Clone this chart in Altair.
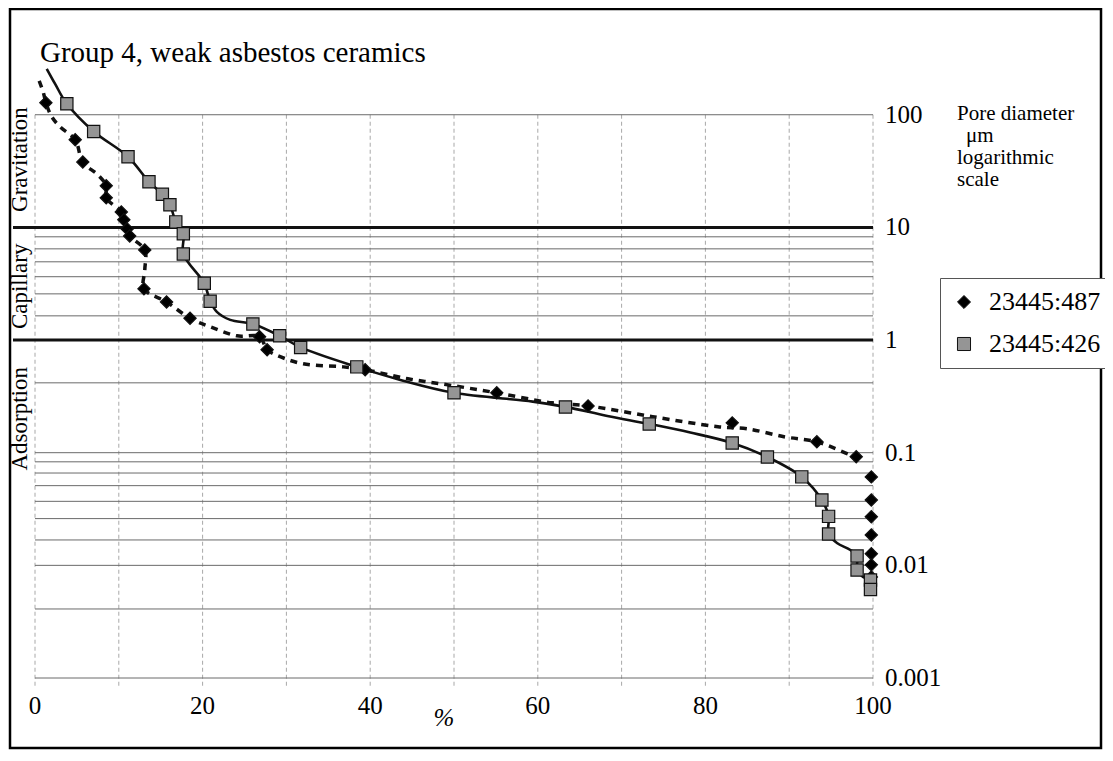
import altair as alt
import pandas as pd

# ---------------- data ----------------
title_text = "Group 4, weak asbestos ceramics"
series_names = ["23445:487", "23445:426"]

# markers, series 23445:487 (diamonds): cumulative % vs pore diameter (um)
pct_487 = [1.3, 4.8, 5.7, 8.5, 8.5, 10.3, 10.6, 11.0, 11.3, 13.1, 13.0, 15.7, 18.5,
           26.8, 27.7, 39.4, 55.1, 66.0, 83.2, 93.3, 98.0,
           99.8, 99.8, 99.8, 99.8, 99.8, 99.8, 99.8]
dia_487 = [128, 60, 38, 23.4, 18.3, 13.7, 11.7, 9.7, 8.4, 6.3, 2.85, 2.18, 1.56,
           1.07, 0.82, 0.545, 0.34, 0.26, 0.184, 0.125, 0.092,
           0.061, 0.038, 0.027, 0.0186, 0.0127, 0.0101, 0.0079]

# markers, series 23445:426 (squares)
pct_426 = [3.8, 7.0, 11.1, 13.6, 15.2, 16.1, 16.8, 17.7, 17.7, 20.2, 20.9, 26.0, 29.2,
           31.7, 38.4, 50.0, 63.3, 73.3, 83.2, 87.4, 91.5, 93.9, 94.7, 94.7, 98.1,
           98.1, 99.7, 99.7]
dia_426 = [125, 71, 42.4, 25.4, 19.7, 15.9, 11.2, 8.8, 5.8, 3.19, 2.21, 1.39, 1.09,
           0.86, 0.578, 0.34, 0.255, 0.18, 0.122, 0.0916, 0.061, 0.038, 0.0272, 0.019,
           0.0121, 0.0091, 0.0074, 0.0061]

# dotted curve (23445:487)
curve_487_pct = [0.5, 1.0, 1.3, 2.0, 3.0, 4.8, 5.7, 7.5, 8.5, 8.5, 10.3, 10.6, 11.0, 11.3,
                 13.1, 13.1, 13.0, 15.7, 18.5, 20.9, 24.1, 26.8, 27.7, 28.9, 32.0, 36.8,
                 39.4, 44.5, 49.3, 55.1, 61.7, 66.0, 73.7, 81.5, 85.0, 89.5, 93.3, 97.3, 98.0]
curve_487_dia = [200, 157, 128, 96, 78, 60, 38, 29.3, 23.4, 18.3, 13.7, 11.7, 9.7, 8.4,
                 6.3, 4.2, 2.85, 2.18, 1.56, 1.31, 1.09, 1.07, 0.82, 0.73, 0.615, 0.578,
                 0.545, 0.453, 0.40, 0.34, 0.277, 0.26, 0.209, 0.17, 0.163, 0.138, 0.125,
                 0.0957, 0.092]

# solid curve (23445:426)
curve_426_pct = [1.4, 2.4, 3.8, 7.0, 11.1, 13.6, 15.2, 16.1, 16.8, 17.7, 17.7, 20.2, 20.9,
                 21.7, 23.3, 26.0, 29.2, 31.7, 38.4, 43.6, 50.0, 59.4, 63.3, 68.3, 73.3,
                 78.2, 83.2, 87.4, 91.5, 93.9, 94.7, 94.7, 95.7, 97.3, 98.1, 98.1, 98.8,
                 99.7, 99.7]
curve_426_dia = [256, 188, 125, 71, 42.4, 25.4, 19.7, 15.9, 11.2, 8.8, 5.8, 3.19, 2.21,
                 1.78, 1.51, 1.39, 1.09, 0.86, 0.578, 0.443, 0.34, 0.284, 0.255, 0.212,
                 0.18, 0.151, 0.122, 0.0916, 0.061, 0.038, 0.0272, 0.019, 0.0158, 0.0137,
                 0.0121, 0.0091, 0.0079, 0.0074, 0.0061]

# horizontal grid lines (pore diameter values), bold zone borders, vertical grid (%)
minor_grid = [100, 8.25, 6.45, 4.95, 3.65, 2.57, 1.64, 0.417, 0.1, 0.083, 0.066, 0.051,
              0.037, 0.026, 0.0168, 0.01, 0.0041, 0.001]
major_grid = [10, 1]
x_grid = [0, 10, 20, 30, 40, 50, 60, 70, 80, 90, 100]

y_ticks = [0.001, 0.01, 0.1, 1, 10, 100]
y_tick_labels = ["0.001", "0.01", "0.1", "1", "10", "100"]
x_ticks = [0, 20, 40, 60, 80, 100]
x_tick_labels = ["0", "20", "40", "60", "80", "100"]

zone_names = ["Gravitation", "Capillary", "Adsorption"]
zone_centers = [40, 3.0, 0.2]

note_lines = ["Pore diameter", "\u03bcm", "logarithmic", "scale"]
x_title = "%"

# ---------------- chart ----------------
FONT = "Liberation Serif"
W, H = 838, 617
xs = alt.Scale(domain=[0, 100], nice=False, zero=False)
ys = alt.Scale(type="log", domain=[0.001, 300], nice=False)

one = pd.DataFrame({"k": [0]})

frame = alt.Chart(one).mark_rect(fillOpacity=0, stroke="black", strokeWidth=2.5).encode(
    x=alt.value(-25), x2=alt.value(1066), y=alt.value(-52), y2=alt.value(687)
)

vdf = pd.DataFrame({"p": x_grid, "top": [100] * len(x_grid), "bot": [0.00085] * len(x_grid)})
vgrid = alt.Chart(vdf).mark_rule(color="#a8a8a8", strokeWidth=1, strokeDash=[4, 3]).encode(
    x=alt.X("p:Q", scale=xs, axis=None),
    y=alt.Y("top:Q", scale=ys, axis=None),
    y2="bot:Q",
)

minor = alt.Chart(pd.DataFrame({"v": minor_grid})).mark_rule(color="#6a6a6a", strokeWidth=1).encode(
    y=alt.Y("v:Q", scale=ys, axis=None), x=alt.value(0), x2=alt.value(W)
)
major = alt.Chart(pd.DataFrame({"v": major_grid})).mark_rule(color="#111111", strokeWidth=3).encode(
    y=alt.Y("v:Q", scale=ys, axis=None), x=alt.value(-22), x2=alt.value(W)
)

c487 = pd.DataFrame({"p": curve_487_pct, "d": curve_487_dia, "o": list(range(len(curve_487_pct)))})
line487 = alt.Chart(c487).mark_line(
    color="#111111", strokeWidth=3.5, strokeDash=[7, 6], interpolate="catmull-rom"
).encode(
    x=alt.X("p:Q", scale=xs, axis=None),
    y=alt.Y("d:Q", scale=ys, axis=None),
    order="o:Q",
)

c426 = pd.DataFrame({"p": curve_426_pct, "d": curve_426_dia, "o": list(range(len(curve_426_pct)))})
line426 = alt.Chart(c426).mark_line(
    color="#111111", strokeWidth=2.6, interpolate="catmull-rom"
).encode(
    x=alt.X("p:Q", scale=xs, axis=None),
    y=alt.Y("d:Q", scale=ys, axis=None),
    order="o:Q",
)

pts = pd.DataFrame({
    "p": pct_487 + pct_426,
    "d": dia_487 + dia_426,
    "series": [series_names[0]] * len(pct_487) + [series_names[1]] * len(pct_426),
})
leg = alt.Legend(
    title=None, orient="none", legendX=905, legendY=217, padding=11,
    strokeColor="#555555", fillColor="white", labelFont=FONT, labelFontSize=26,
    labelColor="black", symbolSize=170, rowPadding=16, labelOffset=12,
    symbolStrokeColor="#111111", symbolStrokeWidth=1,
)
points = alt.Chart(pts).mark_point(
    filled=True, size=150, stroke="#111111", strokeWidth=1.2, opacity=1
).encode(
    x=alt.X("p:Q", scale=xs, axis=None),
    y=alt.Y("d:Q", scale=ys, axis=None),
    color=alt.Color("series:N", scale=alt.Scale(domain=series_names, range=["#000000", "#959595"]), legend=leg),
    shape=alt.Shape("series:N", scale=alt.Scale(domain=series_names, range=["diamond", "square"]), legend=leg),
)

# tick labels drawn through the scales
ylab = alt.Chart(pd.DataFrame({"v": y_ticks, "t": y_tick_labels})).mark_text(
    font=FONT, fontSize=25, color="black", align="left", baseline="middle"
).encode(y=alt.Y("v:Q", scale=ys, axis=None), x=alt.value(W + 12), text="t:N")

xlab = alt.Chart(pd.DataFrame({"v": x_ticks, "t": x_tick_labels})).mark_text(
    font=FONT, fontSize=25, color="black", align="center", baseline="middle"
).encode(x=alt.X("v:Q", scale=xs, axis=None), y=alt.value(H + 28), text="t:N")

zones = alt.Chart(pd.DataFrame({"n": zone_names, "c": zone_centers})).mark_text(
    angle=270, font=FONT, fontSize=23, color="black", align="center", baseline="middle"
).encode(
    y=alt.Y("c:Q", scale=ys, axis=None), x=alt.value(-15), text="n:N"
)

title_layer = alt.Chart(pd.DataFrame({"t": [title_text]})).mark_text(
    font=FONT, fontSize=29, color="black", align="left", baseline="alphabetic"
).encode(x=alt.value(5), y=alt.value(1), text="t:N")

pct_layer = alt.Chart(pd.DataFrame({"t": [x_title]})).mark_text(
    font=FONT, fontSize=25, fontStyle="italic", color="black", align="center", baseline="middle"
).encode(x=alt.value(409), y=alt.value(657), text="t:N")

note_pos = [(922, 59), (931, 81), (922, 103), (922, 125)]
notes = []
for line, (nx, ny) in zip(note_lines, note_pos):
    notes.append(
        alt.Chart(pd.DataFrame({"t": [line]})).mark_text(
            font=FONT, fontSize=21, color="black", align="left", baseline="alphabetic"
        ).encode(x=alt.value(nx), y=alt.value(ny), text="t:N")
    )

chart = alt.layer(
    frame, vgrid, minor, major, line487, line426, points, ylab, xlab, zones,
    title_layer, pct_layer, *notes
).properties(
    width=W, height=H,
    padding={"left": 27, "top": 53, "right": 232, "bottom": 72},
    autosize=alt.AutoSizeParams(type="none"),
    background="white",
).configure_view(strokeWidth=0).configure_legend(
    labelFont=FONT, labelFontSize=26, labelColor="black"
).configure_text(font=FONT)

chart.save("out.html", embed_options={"renderer": "svg", "actions": False})
